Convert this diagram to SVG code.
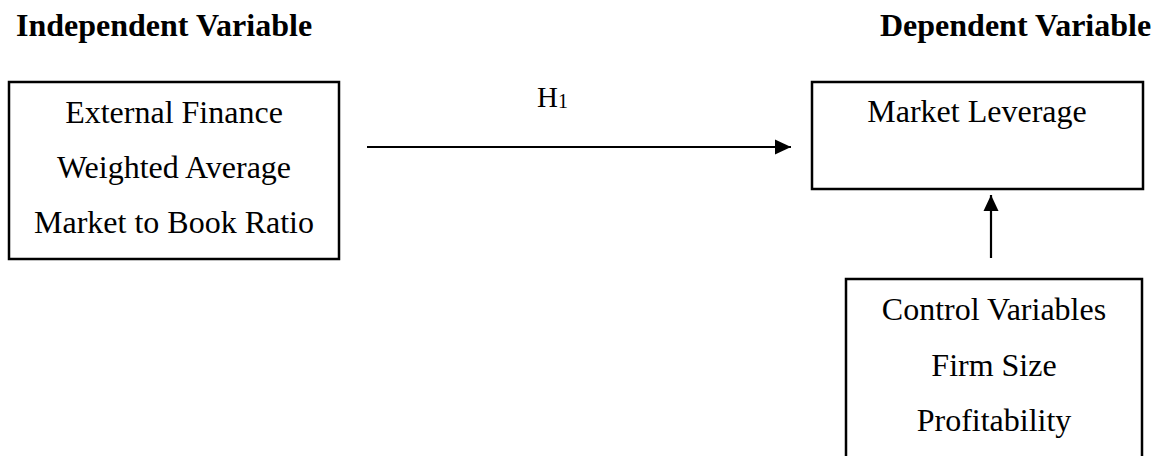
<svg xmlns="http://www.w3.org/2000/svg" width="1161" height="456" viewBox="0 0 1161 456">
<style>
.box{fill:#fff;stroke:#000;stroke-width:2.5}
.t{font-family:"Liberation Serif","Times New Roman",serif;font-size:32px;fill:#000;text-anchor:middle}
.h{font-family:"Liberation Serif","Times New Roman",serif;font-size:32px;font-weight:bold;fill:#000}
.lbl{font-family:"Liberation Serif","Times New Roman",serif;font-size:29px;fill:#000}
.conn{stroke:#000;stroke-width:2.2;fill:none}
</style>
<defs>
<marker id="arr" markerWidth="17" markerHeight="16" refX="16" refY="8" orient="auto" markerUnits="userSpaceOnUse">
<path d="M0,0.5 L16,8 L0,15.5 Z" fill="#000"/>
</marker>
</defs>
<rect width="1161" height="456" fill="#fff"/>
<text class="h" x="16" y="36">Independent Variable</text>
<text class="h" x="880" y="36">Dependent Variable</text>
<g id="independent">
<rect class="box" x="9" y="82" width="330" height="177"/>
<text class="t" x="174" y="123">External Finance</text>
<text class="t" x="174" y="178">Weighted Average</text>
<text class="t" x="174" y="233">Market to Book Ratio</text>
</g>
<g id="dependent">
<rect class="box" x="812" y="82" width="331" height="107"/>
<text class="t" x="977" y="122">Market Leverage</text>
</g>
<g id="control">
<rect class="box" x="846" y="279" width="296" height="200"/>
<text class="t" x="994" y="320">Control Variables</text>
<text class="t" x="994" y="376">Firm Size</text>
<text class="t" x="994" y="431">Profitability</text>
</g>
<g id="connectors">
<line class="conn" x1="367" y1="147" x2="791" y2="147" marker-end="url(#arr)"/>
<line class="conn" x1="991" y1="258" x2="991" y2="195" marker-end="url(#arr)"/>
<text class="lbl" x="537" y="107">H<tspan font-size="20" dy="1">1</tspan></text>
</g>
</svg>
